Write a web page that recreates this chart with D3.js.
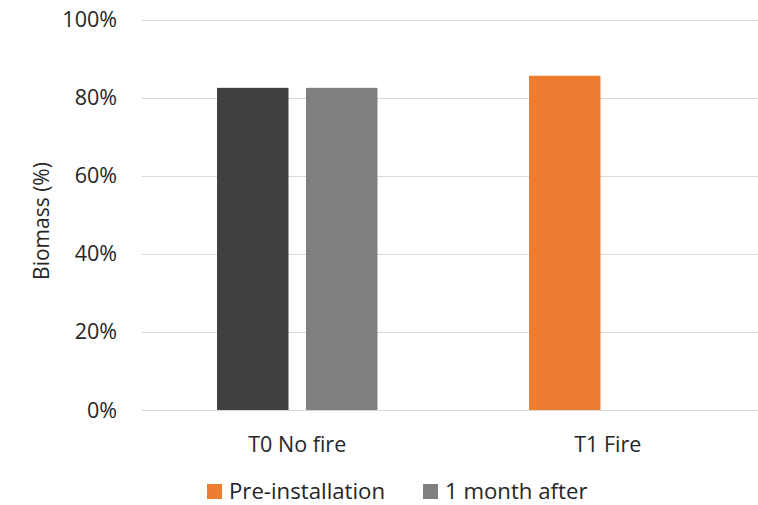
<!DOCTYPE html>
<html>
<head>
<meta charset="utf-8">
<script src="https://cdn.jsdelivr.net/npm/d3@7"></script>
<style>
  html, body { margin: 0; padding: 0; background: #fff; }
  svg { display: block; font-family: "Open Sans", "Noto Sans", sans-serif; }
</style>
</head>
<body>
<svg id="chart" width="758" height="505"></svg>
<script>
// Treatments on the x axis
const categories = ["T0 No fire", "T1 Fire"];
// Series shown in the legend
const seriesNames = ["Pre-installation", "1 month after"];
// Biomass share (%) per treatment, one array per series
const preInstallation = [82.5, 85.6];
const oneMonthAfter = [82.5, null];
// Y axis ticks
const yTicks = [0, 20, 40, 60, 80, 100];

const seriesColors = ["#ed7d31", "#7f7f7f"];
// The untreated plot's pre-installation bar is drawn in dark grey
const pointColors = [["#404040", "#ed7d31"], ["#7f7f7f", "#7f7f7f"]];

const svg = d3.select("#chart");
const W = 758, H = 505;
const margin = { left: 142, right: -5, top: 19.5, bottom: 95 };
const fontSize = 21;

const x0 = d3.scaleBand()
  .domain(categories)
  .range([margin.left, W - margin.right])
  .paddingInner(0)
  .paddingOuter(0);

const x1 = d3.scaleBand()
  .domain(seriesNames)
  .range([0, x0.bandwidth()])
  .paddingInner(0.197)
  .paddingOuter(0.843);

const y = d3.scaleLinear()
  .domain([0, 100])
  .range([H - margin.bottom, margin.top]);

// Gridlines
svg.append("g")
  .selectAll("line")
  .data(yTicks)
  .join("line")
  .attr("x1", margin.left)
  .attr("x2", W)
  .attr("y1", d => Math.round(y(d)) + 0.5)
  .attr("y2", d => Math.round(y(d)) + 0.5)
  .attr("stroke", "#d9d9d9")
  .attr("stroke-width", 1);

// Bars
const series = [preInstallation, oneMonthAfter];
const bars = [];
series.forEach((vals, si) => {
  vals.forEach((v, ci) => {
    if (v == null) return;
    bars.push({ si, ci, v });
  });
});

svg.append("g")
  .selectAll("rect")
  .data(bars)
  .join("rect")
  .attr("x", d => x0(categories[d.ci]) + x1(seriesNames[d.si]) + d.ci * 1.5)
  .attr("width", x1.bandwidth())
  .attr("y", d => y(d.v))
  .attr("height", d => y(0) - y(d.v))
  .attr("fill", d => pointColors[d.si][d.ci]);

// Y axis labels
svg.append("g")
  .selectAll("text")
  .data(yTicks)
  .join("text")
  .attr("x", 117)
  .attr("y", d => y(d))
  .attr("dy", "0.35em")
  .attr("text-anchor", "end")
  .attr("font-size", fontSize + 0.5)
  .attr("fill", "#262626")
  .text(d => d + "%");

// Category labels
svg.append("g")
  .selectAll("text")
  .data(categories)
  .join("text")
  .attr("x", d => x0(d) + x0.bandwidth() / 2)
  .attr("y", 452)
  .attr("text-anchor", "middle")
  .attr("font-size", fontSize + 0.5)
  .attr("fill", "#262626")
  .text(d => d);

// Y axis title
svg.append("text")
  .attr("transform", "translate(48.5,221) rotate(-90)")
  .attr("text-anchor", "middle")
  .attr("font-size", fontSize)
  .attr("fill", "#262626")
  .text("Biomass (%)");

// Legend
const legendX = [207, 423];
const lg = svg.append("g")
  .selectAll("g")
  .data(seriesNames)
  .join("g")
  .attr("transform", (d, i) => `translate(${legendX[i]},484)`);
lg.append("rect")
  .attr("width", 15)
  .attr("height", 15)
  .attr("fill", (d, i) => seriesColors[i]);
lg.append("text")
  .attr("x", 22)
  .attr("y", 15)
  .attr("font-size", 22.2)
  .attr("fill", "#262626")
  .text(d => d);
</script>
</body>
</html>
